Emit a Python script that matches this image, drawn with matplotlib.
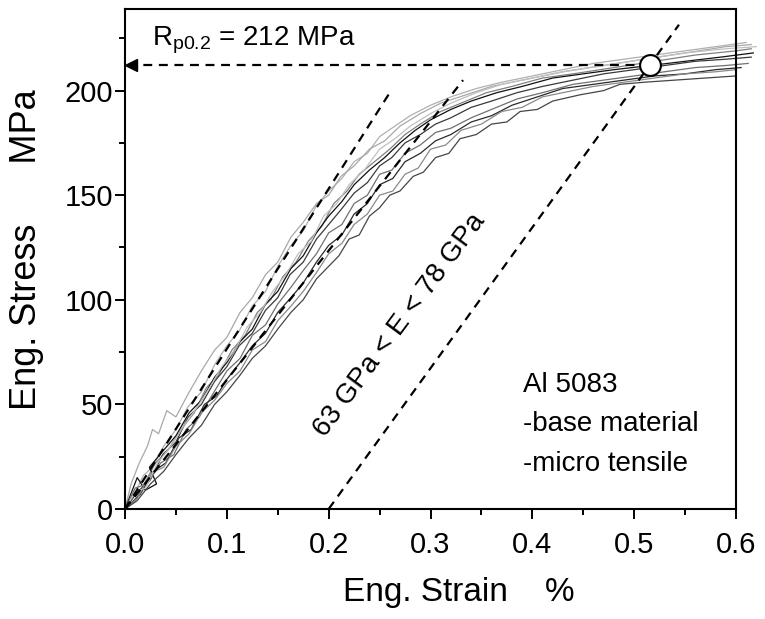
import matplotlib
matplotlib.use('Agg')
import matplotlib.pyplot as plt
from matplotlib.ticker import MultipleLocator

# stress-strain curves (strain in %, stress in MPa)
c1_strain = [0, 0.008, 0.018, 0.027, 0.038, 0.05, 0.062, 0.075, 0.088, 0.1, 0.112, 0.125, 0.138, 0.15, 0.163, 0.175, 0.188, 0.2, 0.213, 0.225, 0.238, 0.25, 0.265, 0.28, 0.3, 0.32, 0.345, 0.37, 0.4, 0.43, 0.46, 0.49, 0.52, 0.55, 0.58, 0.61]
c1_stress = [0, 6, 16, 20, 30, 38, 49, 56, 69, 78, 85, 97, 104, 116, 126, 133, 145, 152, 158, 166, 170, 178, 183, 188, 193, 197, 201, 204, 207, 210, 213, 215, 217, 219, 221, 223]

c2_strain = [0, 0.006, 0.014, 0.022, 0.027, 0.033, 0.041, 0.05, 0.062, 0.075, 0.088, 0.1, 0.113, 0.125, 0.138, 0.15, 0.163, 0.175, 0.188, 0.2, 0.212, 0.225, 0.24, 0.255, 0.27, 0.29, 0.31, 0.335, 0.36, 0.39, 0.43, 0.47, 0.51, 0.55, 0.59, 0.615]
c2_stress = [0, 12, 22, 30, 38, 36, 47, 44, 55, 66, 76, 82, 94, 101, 112, 118, 130, 137, 146, 150, 159, 164, 172, 176, 183, 189, 194, 198, 202, 205, 209, 212, 215, 218, 221, 222]

c3_strain = [0, 0.01, 0.02, 0.03, 0.042, 0.055, 0.068, 0.08, 0.092, 0.105, 0.118, 0.13, 0.143, 0.155, 0.168, 0.18, 0.193, 0.205, 0.218, 0.23, 0.245, 0.26, 0.275, 0.29, 0.31, 0.33, 0.355, 0.38, 0.41, 0.44, 0.48, 0.52, 0.56, 0.6, 0.615]
c3_stress = [0, 4, 13, 22, 28, 38, 46, 58, 64, 76, 83, 94, 100, 111, 118, 128, 135, 146, 152, 160, 166, 172, 179, 184, 190, 194, 199, 202, 206, 208, 211, 214, 217, 219, 220]

c4_strain = [0, 0.012, 0.02, 0.031, 0.024, 0.036, 0.05, 0.063, 0.075, 0.088, 0.1, 0.113, 0.125, 0.138, 0.15, 0.163, 0.175, 0.188, 0.2, 0.213, 0.225, 0.24, 0.255, 0.27, 0.285, 0.3, 0.32, 0.34, 0.365, 0.39, 0.42, 0.45, 0.48, 0.516, 0.55, 0.585, 0.617]
c4_stress = [0, 15, 9, 12, 20, 27, 35, 46, 52, 63, 70, 80, 86, 98, 104, 115, 121, 132, 140, 147, 155, 162, 168, 175, 181, 186, 191, 195, 199, 202, 206, 208, 210, 212, 214, 216, 218]

c5_strain = [0, 0.012, 0.025, 0.037, 0.05, 0.062, 0.075, 0.088, 0.1, 0.112, 0.125, 0.138, 0.15, 0.162, 0.175, 0.188, 0.2, 0.212, 0.225, 0.238, 0.25, 0.262, 0.275, 0.29, 0.305, 0.32, 0.34, 0.36, 0.385, 0.41, 0.44, 0.47, 0.5, 0.53, 0.56, 0.59, 0.615]
c5_stress = [0, 8, 14, 26, 32, 44, 50, 61, 68, 78, 84, 95, 101, 112, 118, 129, 136, 143, 151, 156, 164, 168, 175, 179, 184, 187, 192, 195, 199, 202, 205, 208, 210, 212, 214, 215, 216]

c6_strain = [0, 0.01, 0.022, 0.035, 0.048, 0.06, 0.073, 0.085, 0.1, 0.113, 0.125, 0.138, 0.15, 0.163, 0.175, 0.188, 0.2, 0.213, 0.225, 0.238, 0.25, 0.262, 0.275, 0.29, 0.305, 0.32, 0.34, 0.36, 0.385, 0.41, 0.44, 0.47, 0.5, 0.53, 0.56, 0.59, 0.612]
c6_stress = [0, 10, 12, 22, 26, 38, 44, 54, 66, 72, 83, 88, 98, 106, 114, 122, 132, 136, 146, 150, 160, 162, 170, 174, 180, 182, 187, 191, 196, 199, 203, 205, 207, 209, 211, 212, 213]

c7_strain = [0, 0.015, 0.028, 0.04, 0.053, 0.065, 0.078, 0.09, 0.1, 0.113, 0.125, 0.138, 0.15, 0.163, 0.175, 0.188, 0.2, 0.213, 0.225, 0.238, 0.25, 0.263, 0.275, 0.29, 0.305, 0.32, 0.34, 0.36, 0.38, 0.405, 0.43, 0.46, 0.49, 0.52, 0.55, 0.58, 0.605]
c7_stress = [0, 7, 18, 22, 34, 38, 50, 54, 62, 70, 78, 84, 94, 101, 108, 118, 126, 131, 141, 146, 155, 158, 166, 170, 176, 179, 185, 188, 193, 197, 201, 203, 205, 207, 208, 210, 211]

c8_strain = [0, 0.012, 0.025, 0.038, 0.05, 0.063, 0.075, 0.088, 0.1, 0.113, 0.125, 0.138, 0.15, 0.163, 0.175, 0.188, 0.2, 0.213, 0.225, 0.238, 0.25, 0.263, 0.275, 0.288, 0.3, 0.315, 0.33, 0.35, 0.37, 0.39, 0.41, 0.43, 0.46, 0.49, 0.52, 0.55, 0.58, 0.6]
c8_stress = [0, 5, 17, 20, 30, 36, 46, 52, 60, 66, 76, 80, 90, 97, 104, 113, 122, 127, 136, 141, 150, 152, 160, 163, 172, 174, 181, 184, 190, 192, 197, 199, 202, 204, 206, 208, 209, 210]

c9_strain = [0, 0.012, 0.025, 0.038, 0.05, 0.063, 0.075, 0.088, 0.1, 0.113, 0.125, 0.138, 0.15, 0.163, 0.175, 0.188, 0.2, 0.21, 0.22, 0.23, 0.24, 0.25, 0.26, 0.27, 0.283, 0.293, 0.305, 0.318, 0.329, 0.345, 0.36, 0.375, 0.388, 0.405, 0.42, 0.447, 0.47, 0.486, 0.51, 0.54, 0.57, 0.6]
c9_stress = [0, 4, 12, 18, 26, 34, 40, 50, 56, 64, 72, 78, 86, 94, 100, 110, 116, 121, 129, 131, 140, 144, 150, 152, 159, 161, 168, 170, 177, 179, 184, 185, 190, 191, 195, 198, 200, 203, 204, 205, 206, 207]

c10_strain = [0, 0.01, 0.02, 0.032, 0.045, 0.058, 0.07, 0.083, 0.095, 0.108, 0.12, 0.133, 0.145, 0.158, 0.17, 0.183, 0.195, 0.208, 0.22, 0.235, 0.25, 0.265, 0.28, 0.3, 0.32, 0.345, 0.37, 0.4, 0.43, 0.47, 0.51, 0.55, 0.59, 0.62]
c10_stress = [0, 8, 10, 22, 30, 40, 48, 58, 68, 76, 87, 94, 104, 112, 122, 128, 140, 146, 155, 162, 172, 177, 183, 189, 194, 199, 203, 206, 209, 212, 215, 218, 220, 221]

# elastic fit lines and 0.2% offset line
fit_high_x = [0, 0.26]
fit_high_y = [0, 199]
fit_low_x = [0, 0.332]
fit_low_y = [0, 205]
offset_x = [0.2, 0.544]
offset_y = [0, 231.5]
rp02_strain = 0.516
rp02_stress = 212

curves = [(c1_strain, c1_stress), (c2_strain, c2_stress), (c3_strain, c3_stress),
          (c4_strain, c4_stress), (c5_strain, c5_stress), (c6_strain, c6_stress),
          (c7_strain, c7_stress), (c8_strain, c8_stress), (c9_strain, c9_stress),
          (c10_strain, c10_stress)]
shades = ['#b0b0b0', '#a8a8a8', '#808080', '#111111', '#3a3a3a',
          '#707070', '#2a2a2a', '#8a8a8a', '#454545', '#c0c0c0']

plt.rcParams['font.family'] = ['Liberation Sans', 'DejaVu Sans']
plt.rcParams['mathtext.default'] = 'regular'

fig = plt.figure(figsize=(7.65, 6.19), dpi=100)
ax = fig.add_axes([125/765, 1-509/619, 611/765, 500/619])

for (sx, sy), c in zip(curves, shades):
    ax.plot(sx, sy, color=c, lw=0.9, clip_on=False, zorder=2)

ax.plot(fit_high_x, fit_high_y, 'k--', lw=1.6, dashes=(4, 3), zorder=3)
ax.plot(fit_low_x, fit_low_y, 'k--', lw=1.6, dashes=(4, 3), zorder=3)
ax.plot(offset_x, offset_y, 'k--', lw=1.6, dashes=(4, 3), zorder=3)

# horizontal arrow to the y axis
ax.plot([rp02_strain, 0.008], [rp02_stress, rp02_stress], 'k--', lw=1.6, dashes=(4, 3), zorder=3)
ax.plot([0.006], [rp02_stress], marker='<', color='k', ms=8, clip_on=False, zorder=4)
ax.plot([rp02_strain], [rp02_stress], 'o', ms=15, mfc='white', mec='black', mew=1.5, zorder=5)

ax.text(0.0265, 221.5, 'R$_{p0.2}$ = 212 MPa', fontsize=20, va='baseline', ha='left')
ax.text(0.27, 88, '63 GPa < E < 78 GPa', fontsize=20, rotation=53.5,
        rotation_mode='anchor', ha='center', va='center')
ax.text(0.391, 55.8, 'Al 5083', fontsize=20, va='baseline')
ax.text(0.391, 37.2, '-base material', fontsize=20, va='baseline')
ax.text(0.391, 18.1, '-micro tensile', fontsize=20, va='baseline')

ax.set_xlim(0, 0.6)
ax.set_ylim(0, 239)
ax.xaxis.set_major_locator(MultipleLocator(0.1))
ax.xaxis.set_minor_locator(MultipleLocator(0.05))
ax.yaxis.set_major_locator(MultipleLocator(50))
ax.yaxis.set_minor_locator(MultipleLocator(25))
ax.set_xticks([0, 0.1, 0.2, 0.3, 0.4, 0.5, 0.6])
ax.set_xticklabels(['0.0', '0.1', '0.2', '0.3', '0.4', '0.5', '0.6'])
ax.tick_params(which='major', direction='out', length=7.5, width=1.4, labelsize=21)
ax.tick_params(which='minor', direction='out', length=4, width=1.4)
ax.tick_params(axis='x', which='major', pad=8)
ax.tick_params(axis='y', which='major', pad=1)
for s in ax.spines.values():
    s.set_linewidth(1.5)

fig.text(459/765, 1-593/619, 'Eng. Strain    %', fontsize=24, ha='center', va='center')
fig.text(27/765, 1-250/619, 'Eng. Stress      MPa', fontsize=26, ha='center', va='center', rotation=90)

plt.savefig('out.png', dpi=100)
